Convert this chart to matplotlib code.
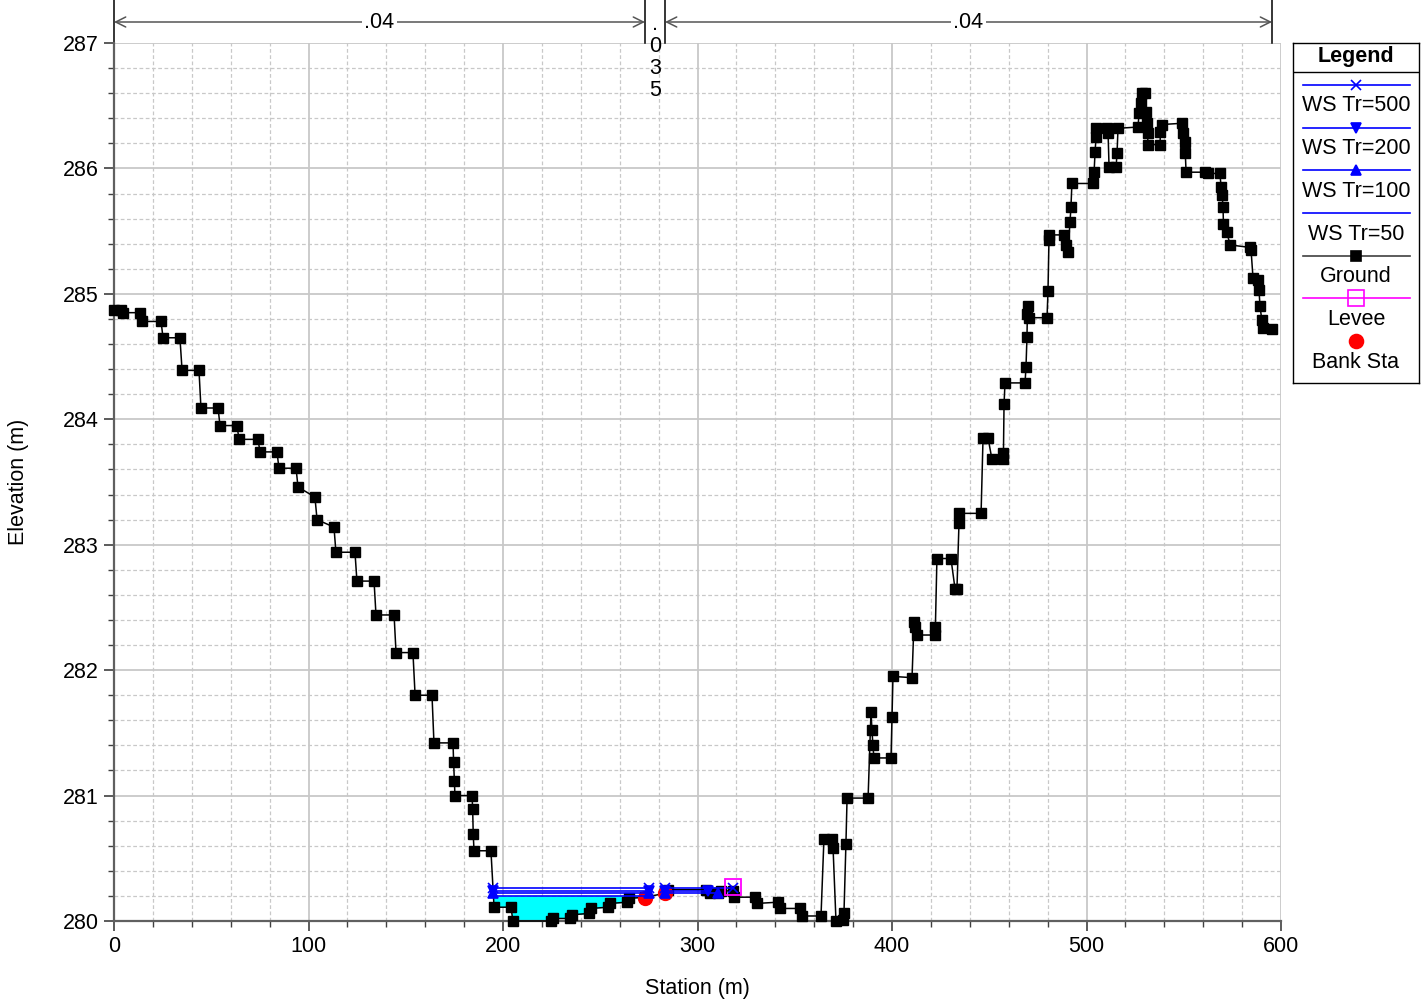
import matplotlib
matplotlib.use('Agg')
import matplotlib.pyplot as plt
import matplotlib.transforms as mtransforms
import numpy as np

plt.rcParams['font.family'] = ['Liberation Sans', 'DejaVu Sans']

# ground profile (station m, elevation m)
ground_sta = [0.0, 3.6, 4.6, 13.4, 14.4, 24.2, 25.2, 33.9, 35.0, 43.7, 44.7, 53.5, 54.5,
              63.2, 64.3, 74.0, 75.1, 83.8, 84.8, 93.6, 94.6, 103.3, 104.4, 113.1, 114.1,
              123.9, 124.9, 133.7, 134.7, 144.0, 145.0, 153.7, 154.8, 163.5, 164.5, 174.3,
              174.6, 175.0, 175.3, 184.1, 184.4, 184.7, 185.1, 193.8, 195.4, 204.1, 205.1,
              224.7, 225.7, 234.4, 235.5, 244.2, 245.2, 254.0, 255.0, 263.8, 264.8, 273.0,
              283.3, 285.0, 304.5, 306.5, 310.5, 312.0, 318.3, 318.8, 329.6, 330.6, 341.4,
              342.4, 352.7, 353.7, 363.5, 365.0, 369.2, 369.7, 371.2, 374.8, 375.3, 376.3,
              376.9, 387.7, 389.2, 389.7, 390.2, 390.7, 399.5, 400.0, 400.5, 410.3, 411.3,
              411.8, 412.9, 422.1, 422.3, 423.1, 430.3, 432.4, 433.4, 434.4, 434.6, 445.8,
              446.8, 449.4, 451.4, 457.1, 457.3, 457.6, 458.1, 468.4, 468.9, 469.4, 469.6,
              469.9, 470.2, 479.7, 480.2, 480.7, 480.9, 488.4, 489.5, 490.5, 491.5, 492.0,
              492.5, 503.3, 503.9, 504.4, 504.9, 505.0, 510.5, 511.1, 511.6, 515.2, 515.7,
              516.2, 526.5, 527.0, 528.0, 528.5, 530.1, 530.6, 531.1, 531.4, 531.6, 537.8,
              538.0, 538.8, 549.1, 549.6, 550.6, 550.8, 551.2, 560.9, 562.5, 568.6, 569.2,
              569.7, 570.2, 570.4, 572.2, 573.8, 584.1, 584.6, 585.6, 588.2, 588.7, 589.2,
              590.2, 590.7, 595.4]
ground_elev = [284.87, 284.87, 284.85, 284.85, 284.78, 284.78, 284.65, 284.65, 284.39, 284.39,
               284.09, 284.09, 283.95, 283.95, 283.84, 283.84, 283.74, 283.74, 283.61, 283.61,
               283.46, 283.38, 283.20, 283.14, 282.94, 282.94, 282.71, 282.71, 282.44, 282.44,
               282.14, 282.14, 281.80, 281.80, 281.42, 281.42, 281.27, 281.12, 281.00, 281.00,
               280.89, 280.69, 280.56, 280.56, 280.11, 280.11, 280.00, 280.00, 280.02, 280.02,
               280.05, 280.06, 280.10, 280.11, 280.14, 280.15, 280.18, 280.19, 280.22, 280.25,
               280.25, 280.22, 280.22, 280.24, 280.24, 280.19, 280.19, 280.14, 280.15, 280.10,
               280.10, 280.04, 280.04, 280.65, 280.65, 280.58, 280.00, 280.01, 280.06, 280.61,
               280.98, 280.98, 281.67, 281.52, 281.40, 281.30, 281.30, 281.63, 281.95, 281.94,
               282.38, 282.34, 282.28, 282.28, 282.34, 282.89, 282.89, 282.65, 282.65, 283.17,
               283.25, 283.25, 283.85, 283.85, 283.68, 283.68, 283.73, 284.12, 284.29, 284.29,
               284.42, 284.66, 284.84, 284.90, 284.81, 284.81, 285.02, 285.43, 285.47, 285.47,
               285.39, 285.33, 285.57, 285.69, 285.88, 285.88, 285.97, 286.13, 286.25, 286.32,
               286.32, 286.28, 286.01, 286.01, 286.12, 286.32, 286.33, 286.44, 286.52, 286.60,
               286.60, 286.45, 286.36, 286.28, 286.19, 286.19, 286.29, 286.35, 286.36, 286.28,
               286.21, 286.12, 285.97, 285.97, 285.96, 285.96, 285.85, 285.79, 285.69, 285.56,
               285.49, 285.39, 285.37, 285.35, 285.13, 285.11, 285.03, 284.90, 284.79, 284.73,
               284.72]

# water surfaces
ws_labels = ['WS Tr=500', 'WS Tr=200', 'WS Tr=100', 'WS Tr=50']
ws_elev = [280.26, 280.24, 280.22, 280.20]
ws_markers = ['x', 'v', '^', None]
ws_main = [194.9, 275.0]                 # main channel extent
ws_over_start = 283.3
ws_over_end = [318.5, 305.5, 310.5, None]  # right overbank segment end

bank_sta = [273.0, 283.3]
bank_elev = [280.18, 280.22]
levee_sta = [318.5]
levee_elev = [280.27]

# Manning's n regions
n_edges = [0.0, 273.0, 283.3, 595.4]
n_values = ['.04', '.035', '.04']

FS = 15.5

fig = plt.figure(figsize=(14.27, 10), dpi=100)
ax = fig.add_axes([114 / 1427, 79 / 1000, 1167 / 1427, 878 / 1000])

ax.set_xlim(0, 600)
ax.set_ylim(280, 287)
ax.set_xticks(np.arange(0, 601, 100))
ax.set_xticks(np.arange(0, 601, 20), minor=True)
ax.set_yticks(np.arange(280, 287.1, 1))
ax.set_yticks(np.arange(280, 287.01, 0.2), minor=True)
ax.grid(which='major', color='#c8c8c8', lw=1.3, ls='-')
ax.grid(which='minor', color='#c8c8c8', lw=0.9, ls=(0, (3, 2)))
ax.set_axisbelow(True)
for s in ['top', 'right']:
    ax.spines[s].set_visible(False)
for s in ['left', 'bottom']:
    ax.spines[s].set_color('#606060')
    ax.spines[s].set_linewidth(1.6)
ax.tick_params(which='major', length=7, width=1.2, color='#404040', labelsize=FS, pad=4)
ax.tick_params(which='minor', length=4, width=1, color='#404040')
ax.set_xlabel('Station (m)', fontsize=FS, labelpad=15)
ax.set_ylabel('Elevation (m)', fontsize=FS, labelpad=24)

# water fill under lowest water surface
gs = np.array(ground_sta)
ge = np.array(ground_elev)
sel = (gs >= ws_main[0]) & (gs <= ws_main[1])
fx = np.concatenate([[ws_main[0]], gs[sel], [ws_main[1]]])
fg = np.interp(fx, gs, ge)
ax.fill_between(fx, fg, ws_elev[-1], where=fg < ws_elev[-1], interpolate=True,
                color='#00ffff', lw=0, zorder=2)

# water surface lines
for lab, el, mk, end in zip(ws_labels, ws_elev, ws_markers, ws_over_end):
    xs = [ws_main[0], ws_main[1]]
    ys = [el, el]
    if end is not None:
        xs += [np.nan, ws_over_start, end]
        ys += [np.nan, el, el]
    ax.plot(xs, ys, color='blue', lw=1.2, marker=mk, ms=7, mew=1.2, zorder=4,
            clip_on=False)

ax.plot(ground_sta, ground_elev, color='black', lw=1.1, marker='s', ms=6.5, zorder=3,
        clip_on=False)
ax.plot(levee_sta, levee_elev, ls='none', marker='s', ms=11, mfc='none', mec='magenta',
        mew=1.3, zorder=5)
ax.plot(bank_sta, bank_elev, ls='none', marker='o', ms=10, color='red', zorder=3.5)

# Manning's n annotations above the plot
trans = mtransforms.blended_transform_factory(ax.transData, ax.transAxes)
top = 1 + 43 / 878
yarr = 1 + 21 / 878
for xe in n_edges:
    ax.plot([xe, xe], [1.0, top], color='black', lw=1.1, transform=trans, clip_on=False)
for i, val in enumerate(n_values):
    x0, x1 = n_edges[i], n_edges[i + 1]
    xm = (x0 + x1) / 2
    if x1 - x0 > 50:
        ax.annotate('', xy=(x1, yarr), xytext=(x0, yarr), xycoords=trans, textcoords=trans,
                    arrowprops=dict(arrowstyle='<->', color='#555555', lw=1.1,
                                    mutation_scale=18, shrinkA=0, shrinkB=0))
        ax.text(xm, yarr - 1 / 878, val, transform=trans, ha='center', va='center',
                fontsize=FS, bbox=dict(fc='white', ec='none', pad=1.5))
    else:
        for k, ch in enumerate(val):
            ax.text(xm, 1 + (19 - 22 * k) / 878, ch, transform=trans, ha='center',
                    va='center', fontsize=FS)

# legend box
lg = fig.add_axes([1293 / 1427, 1 - 383 / 1000, 126 / 1427, 340 / 1000])
lg.set_xlim(0, 126)
lg.set_ylim(340, 0)
lg.set_xticks([])
lg.set_yticks([])
for s in lg.spines.values():
    s.set_color('black')
    s.set_linewidth(1)
lg.text(63, 14, 'Legend', ha='center', va='center', fontsize=FS, fontweight='bold')
lg.plot([0, 126], [29, 29], color='black', lw=1)

entries = [
    (ws_labels[0], 'blue', 'x', 'blue', 'blue', 7, True),
    (ws_labels[1], 'blue', 'v', 'blue', 'blue', 7, True),
    (ws_labels[2], 'blue', '^', 'blue', 'blue', 7, True),
    (ws_labels[3], 'blue', None, 'blue', 'blue', 7, True),
    ('Ground', '#404040', 's', 'black', 'black', 6.5, True),
    ('Levee', 'magenta', 's', 'none', 'magenta', 11, True),
    ('Bank Sta', 'red', 'o', 'red', 'red', 10, False),
]
for i, (lab, col, mk, mfc, mec, ms, has_line) in enumerate(entries):
    yl = 42 + 42.7 * i
    if has_line:
        lg.plot([10, 117], [yl, yl], color=col, lw=1.2)
    if mk is not None:
        lg.plot([63], [yl], marker=mk, ms=ms, mfc=mfc, mec=mec, mew=1.2, ls='none')
    lg.text(63, yl + 21, lab, ha='center', va='center', fontsize=FS)

fig.savefig('out.png', dpi=100)
